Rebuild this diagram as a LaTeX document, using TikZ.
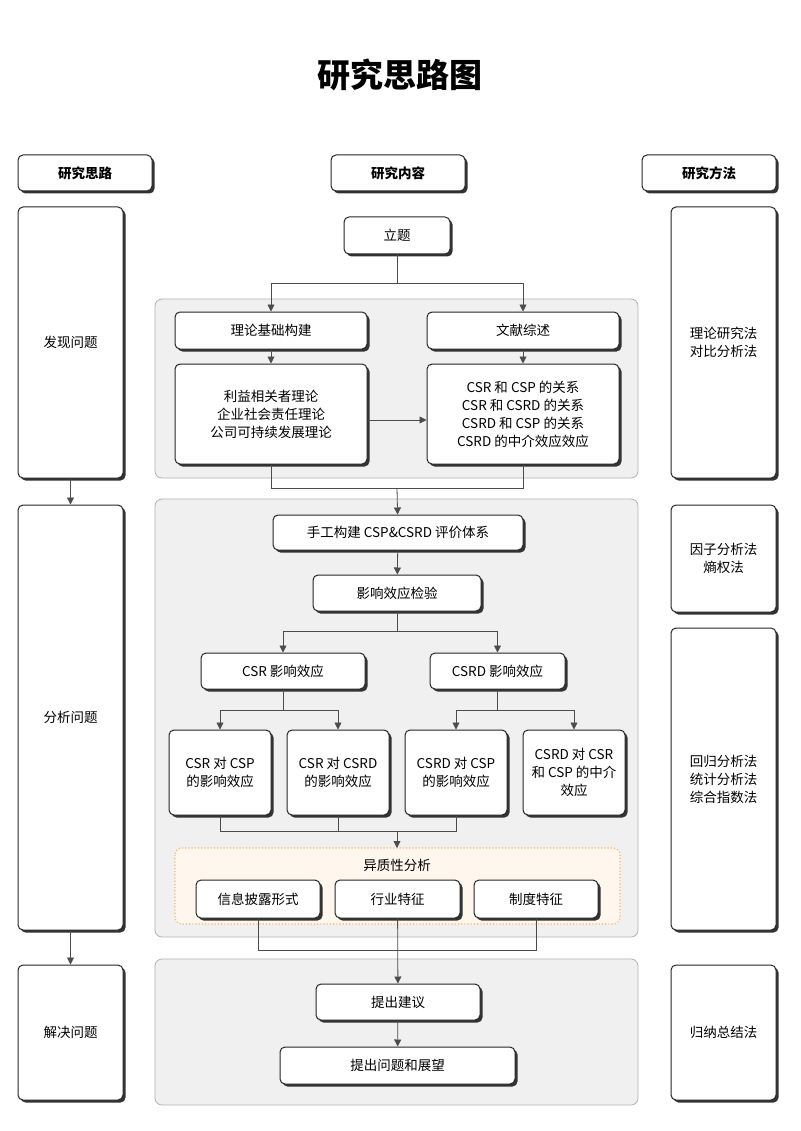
\documentclass[tikz,border=0pt]{standalone}
\usepackage{fontspec}
\setmainfont{Noto Sans CJK SC}
\usetikzlibrary{shadows,arrows.meta}
\newcommand{\bx}[7][]{%
  \pgfmathsetmacro{\cxx}{(#3+#5)/2}\pgfmathsetmacro{\cyy}{(#4+#6)/2}%
  \pgfmathsetmacro{\ww}{#5-#3}\pgfmathsetmacro{\hh}{#6-#4}%
  \node[box,#1,minimum width=\ww pt,minimum height=\hh pt] (#2) at (\cxx,\cyy) {#7};}
\begin{document}
\begin{tikzpicture}[x=1pt,y=-1pt,
  box/.style={draw=black!85,line width=1pt,fill=white,rounded corners=5pt,inner sep=0pt,align=center,font=\fontsize{13.5}{18}\selectfont,
    drop shadow={shadow xshift=2.5pt,shadow yshift=-2.5pt,fill=black!80,opacity=1}},
  hb/.style={font=\bfseries\fontsize{13.5}{18}\selectfont},
  panel/.style={draw=black!30,fill=black!6,rounded corners=7pt,line width=0.8pt},
  ln/.style={draw=black!70,line width=0.8pt},
  arr/.style={ln,-{Triangle[length=7pt,width=7pt]}}]
\useasboundingbox (0,0) rectangle (800,1131);
\fill[white] (0,0) rectangle (800,1131);
\node[font=\bfseries\fontsize{33}{38}\selectfont] (title) at (400,75) {研究思路图};
% panels
\draw[panel] (155,299) rectangle (638,478);
\draw[panel] (155,499) rectangle (638,937);
\draw[panel] (155,959) rectangle (638,1105);
\draw[draw=orange!60,fill=orange!7,dotted,line width=1.2pt,rounded corners=7pt] (175,848) rectangle (620,924);
\node[font=\fontsize{13.5}{18}\selectfont] (yz) at (397,865) {异质性分析};
% headers
\bx[hb]{h1}{18}{155}{152}{191}{研究思路}
\bx[hb]{h2}{331}{155}{465}{191}{研究内容}
\bx[hb]{h3}{642}{155}{776}{191}{研究方法}
% left column
\bx{l1}{18}{207}{123}{478}{发现问题}
\bx{l2}{18}{505}{123}{930}{分析问题}
\bx{l3}{18}{965}{123}{1100}{解决问题}
\draw[arr] (l1) -- (l2);
\draw[arr] (l2) -- (l3);
% right column
\bx{r1}{671}{207}{776}{478}{理论研究法\\对比分析法}
\bx{r2}{671}{505}{776}{612}{因子分析法\\熵权法}
\bx{r3}{671}{628}{776}{930}{回归分析法\\统计分析法\\综合指数法}
\bx{r4}{671}{965}{776}{1100}{归纳总结法}
% content
\bx{lt}{344}{217}{450}{254}{立题}
\bx{ll}{175}{312}{367}{349}{理论基础构建}
\bx{wx}{427}{312}{619}{349}{文献综述}
\bx{th}{175}{364}{367}{464}{利益相关者理论\\企业社会责任理论\\公司可持续发展理论}
\bx{lit}{427}{364}{619}{464}{CSR 和 CSP 的关系\\CSR 和 CSRD 的关系\\CSRD 和 CSP 的关系\\CSRD 的中介效应效应}
\coordinate (s1) at (397,283);
\draw[ln] (lt) -- (s1);
\draw[arr] (s1) -| (ll);
\draw[arr] (s1) -| (wx);
\draw[arr] (ll) -- (th);
\draw[arr] (wx) -- (lit);
\draw[arr] (th.east |- 0,420) -- (lit.west |- 0,420);
\bx{sg}{273}{515}{523}{550}{手工构建 CSP\&CSRD 评价体系}
\coordinate (m1) at (397,488);
\draw[ln] (th) |- (m1);
\draw[ln] (lit) |- (m1);
\draw[arr] (m1) -- (sg);
\bx{jy}{313}{575}{481}{611}{影响效应检验}
\draw[arr] (sg) -- (jy);
\bx{csr}{201}{653}{365}{689}{CSR 影响效应}
\bx{csrd}{430}{653}{565}{689}{CSRD 影响效应}
\coordinate (s2) at (397,631);
\draw[ln] (jy) -- (s2);
\draw[arr] (s2) -| (csr);
\draw[arr] (s2) -| (csrd);
\bx{b1}{169}{730}{271}{815}{CSR 对 CSP\\的影响效应}
\bx{b2}{287}{730}{389}{815}{CSR 对 CSRD\\的影响效应}
\bx{b3}{405}{730}{507}{815}{CSRD 对 CSP\\的影响效应}
\bx{b4}{523}{730}{625}{815}{CSRD 对 CSR\\和 CSP 的中介\\效应}
\coordinate (s3) at (283,710);
\coordinate (s4) at (497.5,710);
\draw[ln] (csr) -- (s3); \draw[arr] (s3) -| (b1); \draw[arr] (s3) -| (b2);
\draw[ln] (csrd) -- (s4); \draw[arr] (s4) -| (b3); \draw[arr] (s4) -| (b4);
\coordinate (m2) at (397,831);
\draw[ln] (b1) |- (m2); \draw[ln] (b2.south) |- (m2); \draw[ln] (b3.south) |- (m2);
\coordinate (yt) at (397,848);
\draw[arr] (m2) -- (yt);
\bx{c1}{196}{880}{320}{918}{信息披露形式}
\bx{c2}{335}{880}{460}{918}{行业特征}
\bx{c3}{474}{880}{598}{918}{制度特征}
\bx{jj}{316}{984}{480}{1020}{提出建议}
\bx{zw}{280}{1047}{515}{1084}{提出问题和展望}
\coordinate (m3) at (397,950);
\draw[ln] (c1) |- (m3); \draw[ln] (c3) |- (m3);
\draw[arr] (c2) -- (jj);
\draw[arr] (jj) -- (zw);
\end{tikzpicture}
\end{document}
